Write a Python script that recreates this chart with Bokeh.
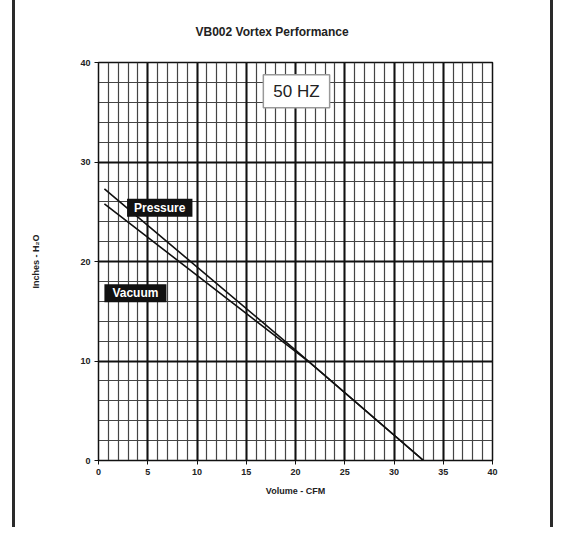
from bokeh.plotting import figure
from bokeh.models import Range1d, SingleIntervalTicker, Grid, Label
from bokeh.embed import file_html
from bokeh.resources import INLINE

# data
pressure_cfm = [0.6, 20.0, 33.0]
pressure_inh2o = [27.3, 11.1, 0.0]
vacuum_cfm = [0.6, 21.5, 33.0]
vacuum_inh2o = [25.8, 9.8, 0.0]

FONT = "Liberation Sans"

p = figure(width=553, height=527, x_range=Range1d(0, 40), y_range=Range1d(0, 40),
           output_backend="svg", toolbar_location=None,
           min_border_left=98, min_border_right=61, min_border_top=62, min_border_bottom=67,
           background_fill_color="white", border_fill_alpha=0)

# page frame lines drawn as a CSS background behind the transparent border
p.styles = {"background": "linear-gradient(to right, white 0px, white 12px, #2a2a2a 12px, "
                          "#2a2a2a 15px, white 15px, white 550px, #2a2a2a 550px, #2a2a2a 553px)"}

p.title.text = "VB002 Vortex Performance"
p.title.align = "left"
p.title.text_font = FONT
p.title.text_font_size = "12px"
p.title.text_font_style = "bold"
p.title.text_color = "#222222"
p.title.offset = 97
p.title.standoff = 44
p.title.vertical_align = "top"

p.outline_line_color = "#111111"
p.outline_line_width = 1.5

# axes
for ax, interval in ((p.xaxis[0], 5), (p.yaxis[0], 10)):
    ax.ticker = SingleIntervalTicker(interval=interval, num_minor_ticks=0)
    ax.major_label_text_font = FONT
    ax.major_label_text_font_size = "9px"
    ax.major_label_text_font_style = "bold"
    ax.major_label_text_color = "#222222"
    ax.axis_label_text_font = FONT
    ax.axis_label_text_font_size = "9px"
    ax.axis_label_text_font_style = "bold"
    ax.axis_label_text_color = "#222222"
    ax.major_tick_out = 4
    ax.major_tick_in = 0
    ax.minor_tick_out = 0
    ax.minor_tick_in = 0
    ax.axis_line_color = "#111111"
    ax.major_tick_line_color = "#111111"
    ax.major_label_standoff = 4

p.xaxis.axis_label = "Volume - CFM"
p.yaxis.axis_label = "Inches - H₂O"
p.xaxis.axis_label_standoff = 8
p.yaxis.axis_label_standoff = 36

# grids: major
p.xgrid.ticker = SingleIntervalTicker(interval=5)
p.ygrid.ticker = SingleIntervalTicker(interval=10)
p.xgrid.grid_line_color = "#111111"
p.ygrid.grid_line_color = "#111111"
p.xgrid.grid_line_width = 2
p.ygrid.grid_line_width = 2
p.xgrid.grid_line_alpha = 1
p.ygrid.grid_line_alpha = 1

# minor grids
gx = Grid(dimension=0, ticker=SingleIntervalTicker(interval=1),
          grid_line_color="#444444", grid_line_width=1.2)
gy = Grid(dimension=1, ticker=SingleIntervalTicker(interval=2),
          grid_line_color="#444444", grid_line_width=1.2)
p.renderers.insert(0, gx)
p.renderers.insert(0, gy)

# curves
p.line(pressure_cfm, pressure_inh2o, line_color="#111111", line_width=1.6)
p.line(vacuum_cfm, vacuum_inh2o, line_color="#111111", line_width=1.6)

# labels
p.add_layout(Label(x=20.1, y=37.1, text="50 HZ", text_font=FONT, text_font_size="17px",
                   text_color="#222222", text_align="center", text_baseline="middle",
                   background_fill_color="white", border_line_color="#999999",
                   border_line_width=1.5, padding=(10, 7)))
p.add_layout(Label(x=2.9, y=25.4, text="Pressure", text_font=FONT, text_font_size="12px",
                   text_font_style="bold", text_color="white", text_align="left",
                   text_baseline="middle", background_fill_color="#111111", padding=(7, 2)))
p.add_layout(Label(x=0.6, y=16.8, text="Vacuum", text_font=FONT, text_font_size="12px",
                   text_font_style="bold", text_color="white", text_align="left",
                   text_baseline="middle", background_fill_color="#111111", padding=(8, 2)))

open("out.html", "w").write(file_html(p, INLINE))
